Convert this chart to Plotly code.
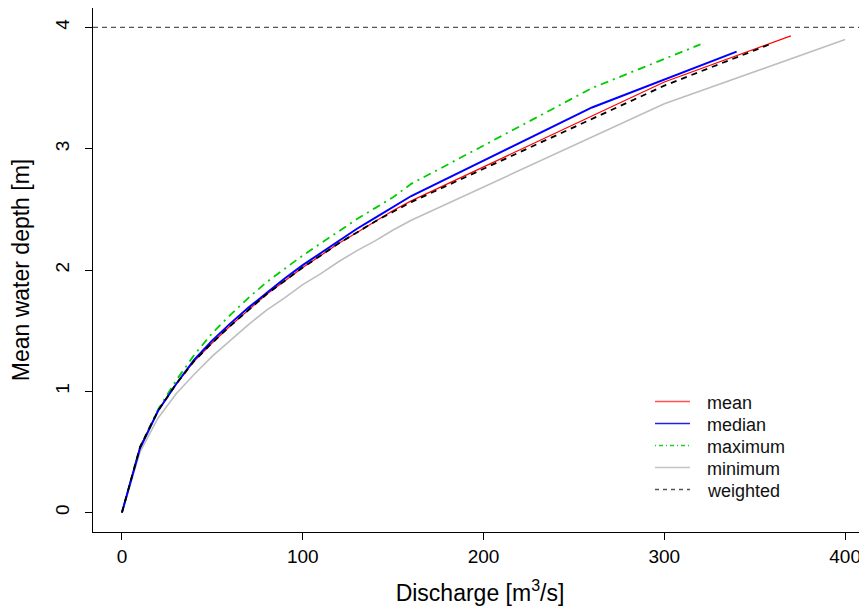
import plotly.graph_objects as go

# Discharge [m3/s] and mean water depth [m] per series
q_mean = [0, 10, 20, 30, 40, 50, 60, 70, 80, 90, 100, 110, 120, 130, 140, 150, 160, 300, 370]
d_mean = [0, 0.54, 0.84, 1.06, 1.25, 1.40, 1.54, 1.67, 1.80, 1.91, 2.02, 2.12, 2.22, 2.31, 2.40, 2.49, 2.57, 3.55, 3.93]

q_median = [0, 10, 20, 30, 40, 50, 60, 70, 80, 90, 100, 110, 120, 130, 140, 150, 160, 260, 340]
d_median = [0, 0.53, 0.84, 1.06, 1.26, 1.42, 1.56, 1.69, 1.81, 1.93, 2.04, 2.14, 2.24, 2.34, 2.43, 2.52, 2.61, 3.34, 3.80]

q_max = [0, 10, 20, 30, 40, 50, 60, 70, 80, 90, 100, 110, 120, 130, 140, 150, 160, 260, 320]
d_max = [0, 0.54, 0.85, 1.09, 1.30, 1.48, 1.63, 1.77, 1.90, 2.01, 2.12, 2.22, 2.32, 2.42, 2.51, 2.60, 2.71, 3.50, 3.86]

q_min = [0, 10, 20, 30, 40, 50, 60, 70, 80, 90, 100, 110, 120, 130, 140, 150, 160, 300, 400]
d_min = [0, 0.50, 0.78, 0.98, 1.14, 1.29, 1.42, 1.55, 1.67, 1.77, 1.88, 1.97, 2.07, 2.16, 2.24, 2.33, 2.41, 3.37, 3.90]

q_weighted = [0, 10, 20, 30, 40, 50, 60, 70, 80, 90, 100, 110, 120, 130, 140, 150, 160, 300, 360]
d_weighted = [0, 0.54, 0.84, 1.06, 1.25, 1.40, 1.54, 1.67, 1.80, 1.91, 2.02, 2.12, 2.22, 2.31, 2.40, 2.48, 2.56, 3.52, 3.87]

max_depth = 4
x_ticks = [0, 100, 200, 300, 400]
y_ticks = [0, 1, 2, 3, 4]
legend_labels = ["mean", "median", "maximum", "minimum", "weighted"]

FONT = "Liberation Sans, Arial, Helvetica, sans-serif"
PAGE_OFF = 8  # default body margin of the html page
W, H = 867 - PAGE_OFF, 610 - PAGE_OFF
ML, MR, MT, MB = 93 - PAGE_OFF, 0, 8 - PAGE_OFF, 78

fig = go.Figure()

styles = {
    "minimum": dict(color="#BEBEBE", width=1.6, dash="solid"),
    "maximum": dict(color="#00CD00", width=1.8, dash="2px,5px,8px,5px"),
    "mean": dict(color="#FF0000", width=1.2, dash="solid"),
    "median": dict(color="#0000FF", width=2, dash="solid"),
    "weighted": dict(color="#000000", width=1.8, dash="6px,5px"),
}
legend_colors = {"mean": "#FF5050", "median": "#2020E8", "maximum": "#20D020",
                 "minimum": "#C4C4C4", "weighted": "#555555"}
legend_dash = {"mean": "solid", "median": "solid", "maximum": "1px,3px,4px,3px",
               "minimum": "solid", "weighted": "4px,4px"}
data = {
    "minimum": (q_min, d_min),
    "maximum": (q_max, d_max),
    "mean": (q_mean, d_mean),
    "median": (q_median, d_median),
    "weighted": (q_weighted, d_weighted),
}

for name in ["minimum", "maximum", "mean", "median", "weighted"]:
    q, d = data[name]
    fig.add_trace(go.Scatter(x=q, y=d, mode="lines", name=name, line=styles[name],
                             showlegend=False, hoverinfo="skip"))

fig.add_hline(y=max_depth, line=dict(color="#555555", width=1.2, dash="5px,4px"))

# manual legend (R-style, no box); positions given in page pixels
pw = W - ML - MR
ph = H - MT - MB
def px(xp):
    return (xp - PAGE_OFF - ML) / pw
def py(yp):
    return 1 - (yp - PAGE_OFF - MT) / ph

row0, step = 401.5, 22
for i, name in enumerate(legend_labels):
    yc = row0 + i * step
    fig.add_shape(type="line", xref="paper", yref="paper",
                  x0=px(655), x1=px(690), y0=py(yc), y1=py(yc),
                  line_color=legend_colors[name], line_width=1.5,
                  line_dash=legend_dash[name], layer="above")
    fig.add_annotation(text=name, xref="paper", yref="paper", x=px(705), y=py(yc + 1),
                       xanchor="left", yanchor="middle", showarrow=False,
                       font=dict(size=18, color="#111111"))

fig.update_layout(
    width=W, height=H,
    margin=dict(l=ML, r=MR, t=MT, b=MB, autoexpand=False),
    paper_bgcolor="white", plot_bgcolor="white",
    font=dict(family=FONT, size=19, color="black"),
    showlegend=False,
    xaxis=dict(range=[-16, 412.1], tickvals=x_ticks, ticks="outside", ticklen=7,
               showgrid=False, zeroline=False, showline=True, linecolor="black",
               linewidth=1.3, mirror=True, tickcolor="black", automargin=False,
               title=dict(text="Discharge [m<sup>3</sup>/s]", font=dict(size=23), standoff=18)),
    yaxis=dict(range=[-0.16, 4.16], tickvals=y_ticks, ticks="outside", ticklen=7,
               showgrid=False, zeroline=False, showline=True, linecolor="black",
               linewidth=1.3, mirror=False, tickcolor="black", tickangle=-90,
               ticklabelstandoff=8, automargin=False,
               title=dict(text="Mean water depth [m]", font=dict(size=23), standoff=19)),
)

fig.write_html("out.html")
